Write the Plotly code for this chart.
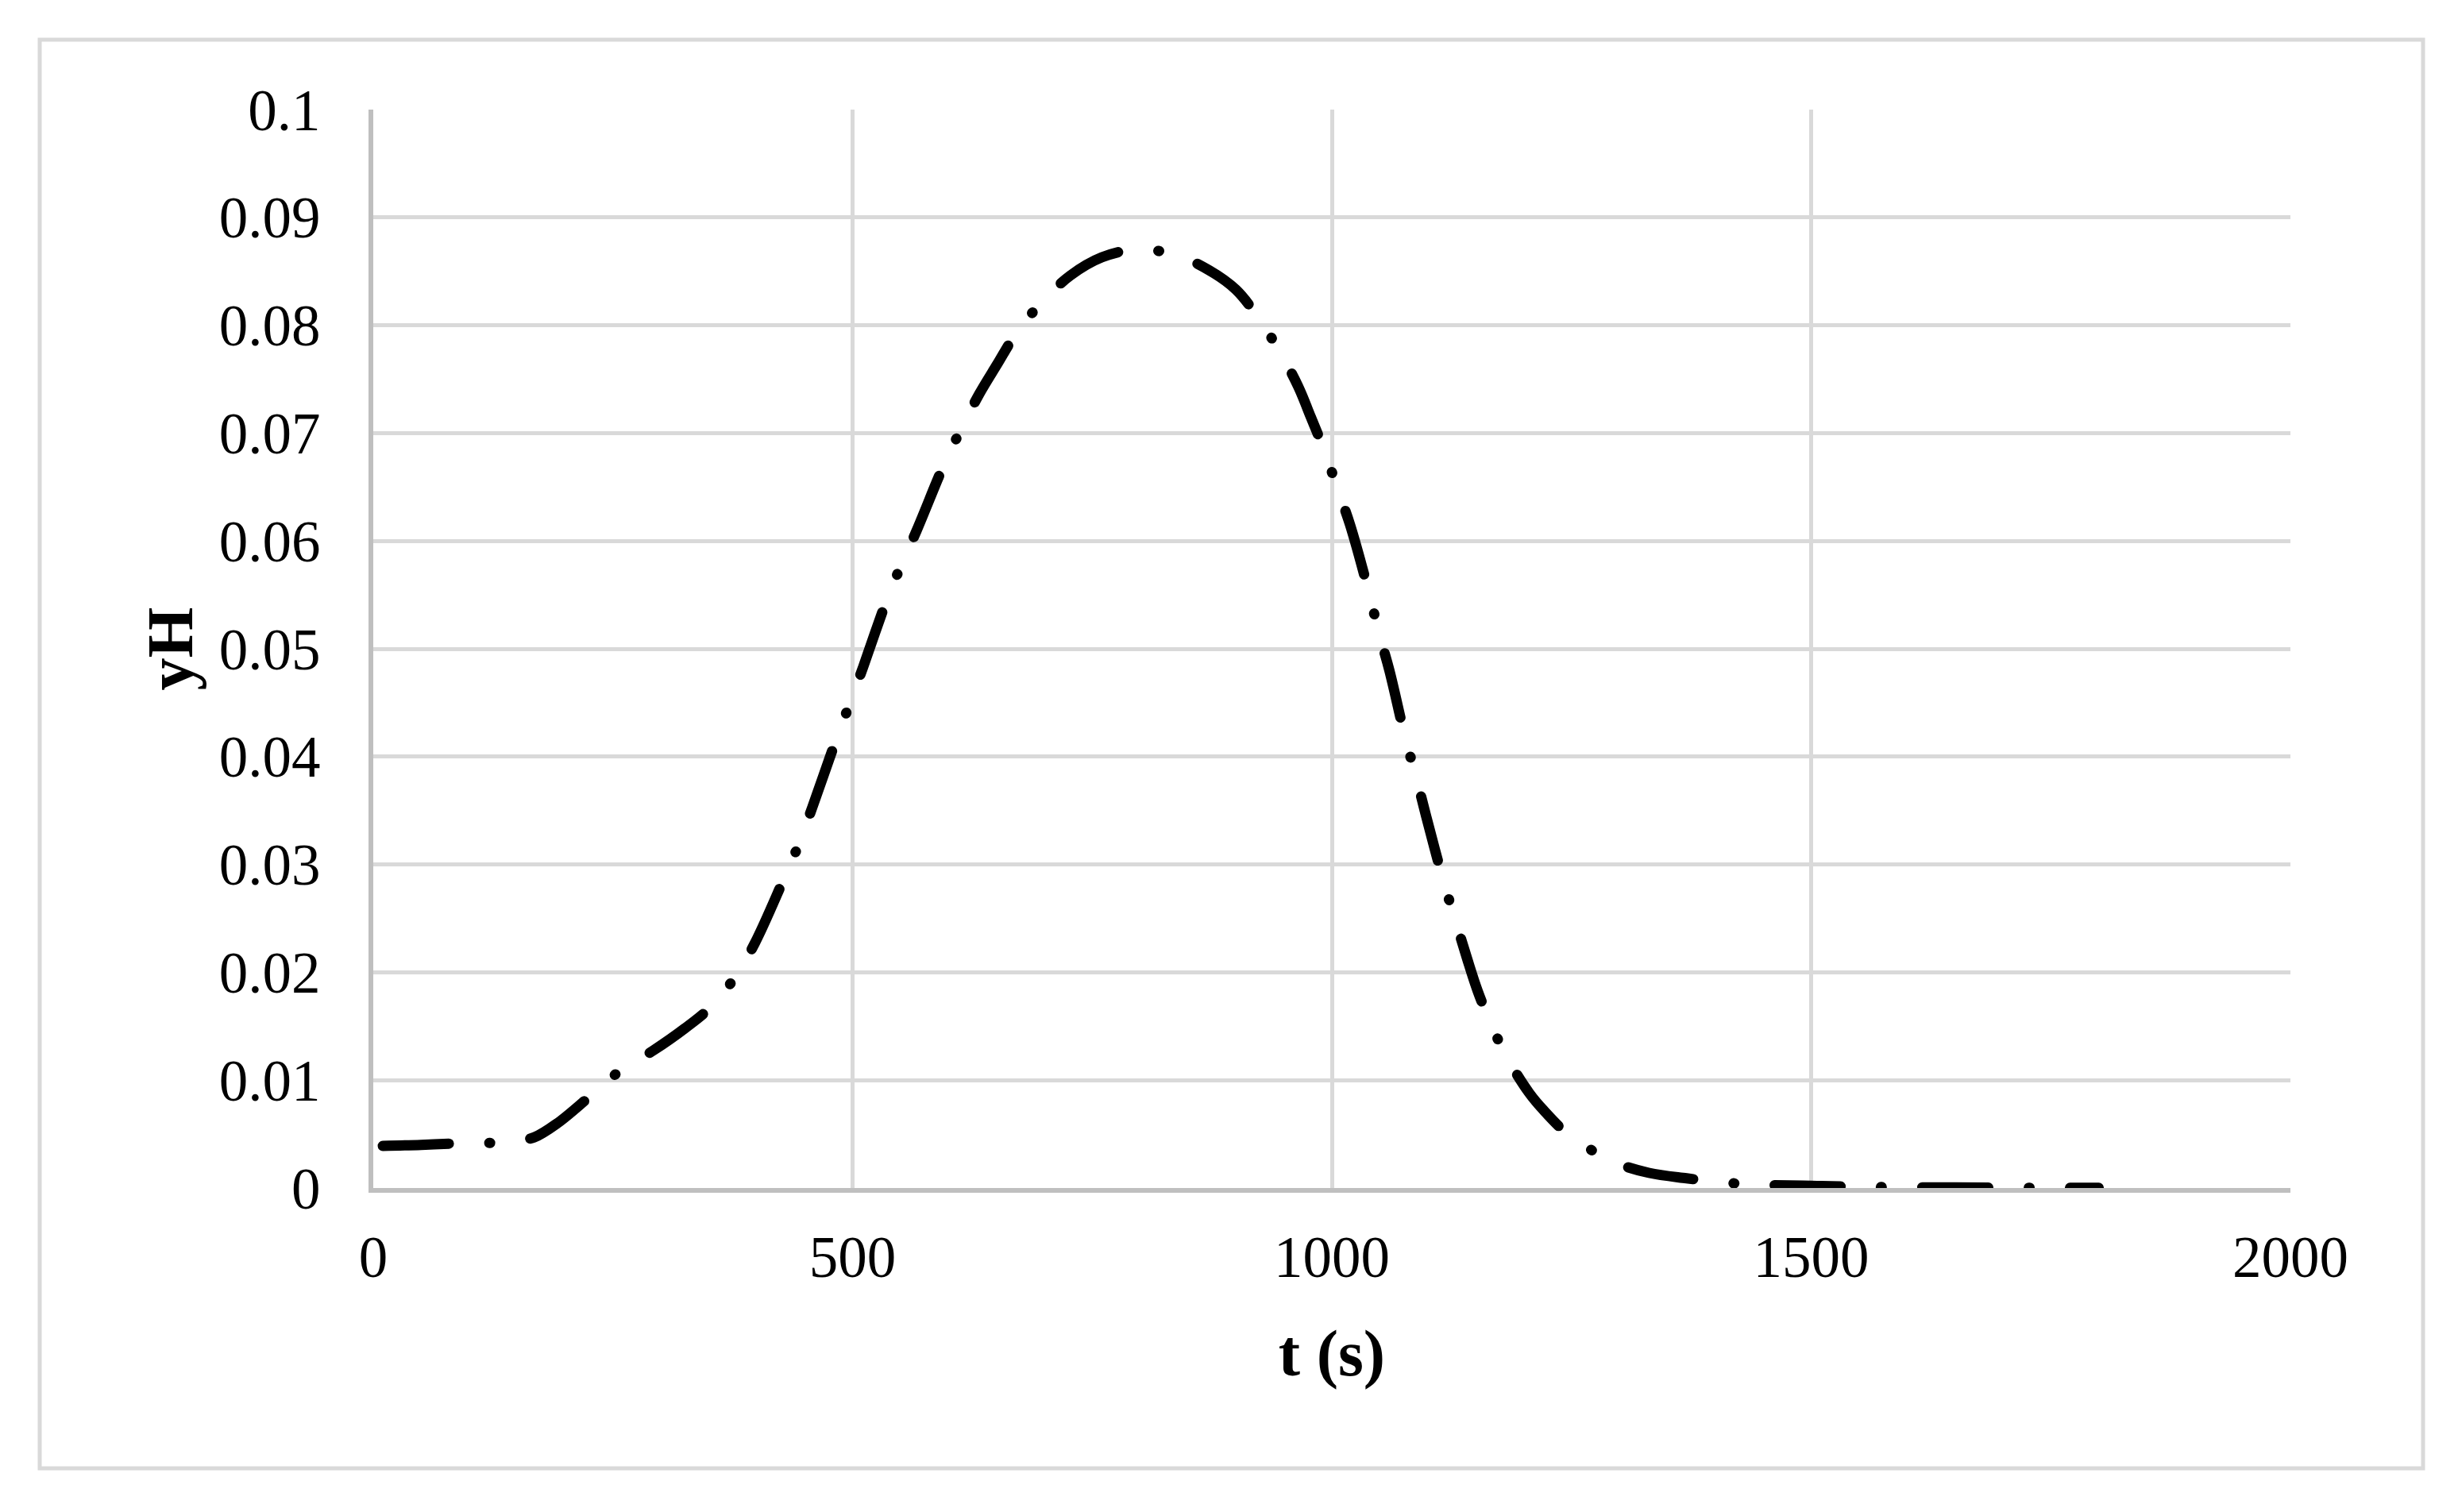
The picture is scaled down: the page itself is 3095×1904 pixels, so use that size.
import plotly.graph_objects as go

# Data
t_s = [10, 50, 90, 128, 150, 168, 192, 226, 258, 293, 325, 351, 377, 398, 428, 444,
       458, 483, 497, 511, 536, 551, 567, 596, 614, 632, 651, 671, 697, 727, 760, 794,
       835, 872, 900, 924, 946, 965, 978, 993, 1006, 1019, 1039, 1049, 1060, 1077, 1088,
       1098, 1117, 1129, 1141, 1152, 1166, 1184, 1206, 1221, 1246, 1279, 1300, 1331, 1370,
       1410, 1447, 1500, 1560, 1650, 1750, 1800]
yH = [0.0039, 0.0040, 0.00415, 0.0042, 0.0044, 0.0047, 0.0060, 0.0085, 0.0109, 0.0128,
      0.0148, 0.0167, 0.0195, 0.0227, 0.0286, 0.0319, 0.0353, 0.0416, 0.0449, 0.0483,
      0.0546, 0.0578, 0.0610, 0.0672, 0.0705, 0.0736, 0.0764, 0.0793, 0.0821, 0.0846,
      0.0863, 0.0870, 0.0866, 0.0851, 0.0833, 0.0806, 0.0775, 0.0743, 0.0715, 0.0682,
      0.0648, 0.0615, 0.0551, 0.0515, 0.0480, 0.0416, 0.0381, 0.0346, 0.0283, 0.0248,
      0.0213, 0.0183, 0.0152, 0.0119, 0.0088, 0.0072, 0.0050, 0.0031, 0.0022, 0.0014,
      0.0009, 0.0005, 0.0003, 0.0002, 0.0001, 0.00005, 0.00002, 0.00001]

x_tick_vals = [0, 500, 1000, 1500, 2000]
x_tick_text = ["0", "500", "1000", "1500", "2000"]
y_tick_vals = [0, 0.01, 0.02, 0.03, 0.04, 0.05, 0.06, 0.07, 0.08, 0.09, 0.1]
y_tick_text = ["0", "0.01", "0.02", "0.03", "0.04", "0.05", "0.06", "0.07", "0.08", "0.09", "0.1"]

x_title = "t (s)"
y_title = "yH"

# page has an 8px body margin; keep the figure inside the window
OFF = 8
W, H = 3095 - 2 * OFF, 1904 - 2 * OFF
# target plot-area edges in page pixels
L, R, T, B = 470, 2884, 138, 1496

fig = go.Figure()
fig.add_trace(go.Scatter(
    x=t_s, y=yH, mode="lines",
    line=dict(color="black", width=13, dash="83px,51px,1px,51px", shape="spline", smoothing=1.0),
    showlegend=False, hoverinfo="skip",
))

font_family = "Liberation Serif, Times New Roman, serif"
grid_c = "#d9d9d9"
axis_c = "#bfbfbf"

fig.update_layout(
    width=W, height=H, autosize=False,
    margin=dict(l=L - OFF, r=(OFF + W) - R, t=T - OFF, b=(OFF + H) - B, pad=0),
    paper_bgcolor="white", plot_bgcolor="white",
    font=dict(family=font_family, color="black", size=73),
)

fig.update_xaxes(
    range=[0, 2000], tickvals=x_tick_vals, ticktext=x_tick_text,
    showgrid=True, gridcolor=grid_c, gridwidth=5,
    showline=True, linecolor=axis_c, linewidth=6,
    zeroline=False, ticks="outside", ticklen=18, tickcolor="rgba(0,0,0,0)",
    tickfont=dict(family=font_family, size=73, color="black"),
    title=dict(text="<b>" + x_title + "</b>", font=dict(family=font_family, size=82, color="black"), standoff=54),
)
fig.update_yaxes(
    range=[0, 0.1], tickvals=y_tick_vals, ticktext=y_tick_text,
    showgrid=True, gridcolor=grid_c, gridwidth=5,
    showline=True, linecolor=axis_c, linewidth=6,
    zeroline=False, ticks="outside", ticklen=46, tickcolor="rgba(0,0,0,0)",
    tickfont=dict(family=font_family, size=73, color="black"),
    title=dict(text="<b>" + y_title + "</b>", font=dict(family=font_family, size=82, color="black"), standoff=8),
)

# Outer chart border (page pixel positions converted to paper coordinates)
pw, ph = R - L, B - T
fig.add_shape(
    type="rect", xref="paper", yref="paper",
    x0=(50 - L) / pw, x1=(3051 - L) / pw,
    y0=(B - 1849) / ph, y1=(B - 50) / ph,
    line=dict(color=grid_c, width=5), fillcolor="rgba(0,0,0,0)", layer="below",
)

# round line caps so dashes/dots look like the reference
round_caps = (
    "var gd=document.getElementById('{plot_id}');"
    "gd.querySelectorAll('.scatterlayer path.js-line').forEach(function(p){"
    "p.style.strokeLinecap='round';p.style.strokeLinejoin='round';});"
)

fig.write_html("out.html", post_script=round_caps)
